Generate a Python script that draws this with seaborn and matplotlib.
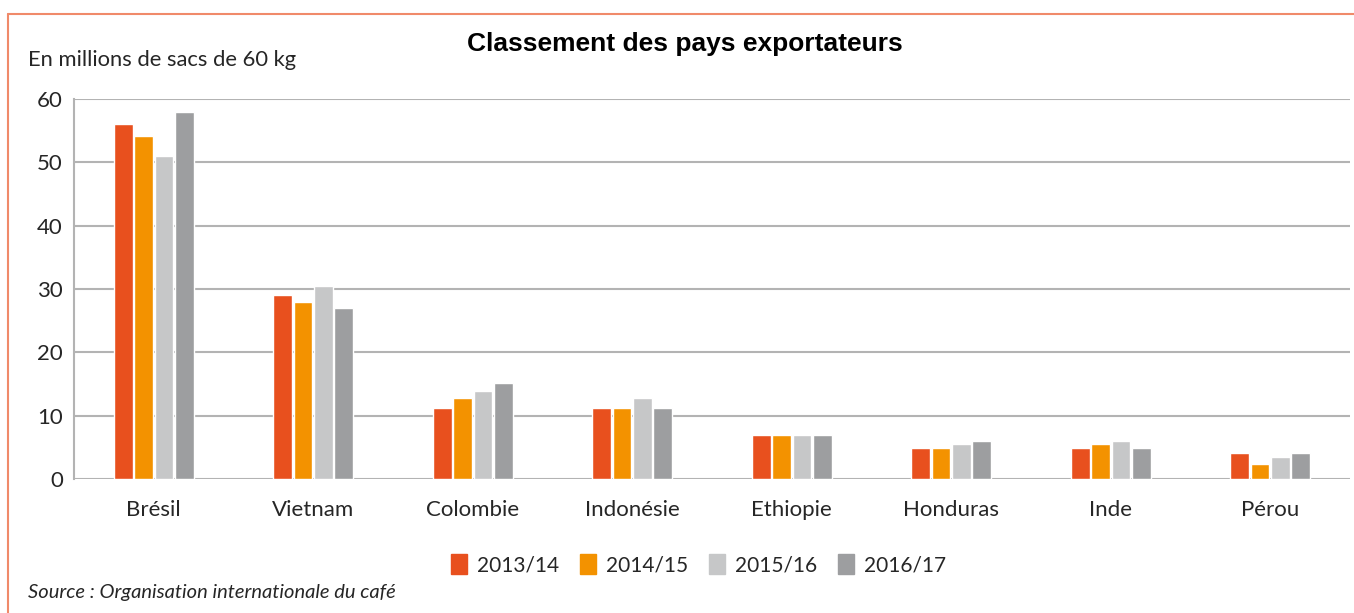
import seaborn as sns
import matplotlib.pyplot as plt
import matplotlib.patches as mpatches
import pandas as pd

# Data (millions of 60 kg bags)
pays = ['Brésil', 'Vietnam', 'Colombie', 'Indonésie', 'Ethiopie', 'Honduras', 'Inde', 'Pérou']
saisons = ['2013/14', '2014/15', '2015/16', '2016/17']
v2013 = [56, 29, 11.2, 11.2, 7, 4.9, 4.9, 4.1]
v2014 = [54.2, 28, 12.8, 11.2, 7, 4.9, 5.5, 2.4]
v2015 = [51, 30.5, 13.9, 12.8, 7, 5.5, 6.0, 3.5]
v2016 = [58, 27, 15.2, 11.2, 7, 6.0, 4.9, 4.1]
couleurs = ['#E8501E', '#F39200', '#C6C7C8', '#9D9EA0']

df = pd.DataFrame({'pays': pays * 4,
                   'saison': [s for s in saisons for _ in pays],
                   'valeur': v2013 + v2014 + v2015 + v2016})

sns.set_style('white')
plt.rcParams['font.family'] = ['Lato', 'DejaVu Sans']

fig = plt.figure(figsize=(13.54, 6.13), dpi=100)
ax = fig.add_axes([0.0547, 0.2186, 0.9423, 0.62])

sns.barplot(data=df, x='pays', y='valeur', hue='saison', palette=couleurs,
            width=0.51, gap=0.08, saturation=1, ax=ax, legend=False)

ax.set_xlim(-0.5, 7.5)
ax.set_ylim(0, 60)
ax.set_yticks(range(0, 61, 10))
ax.yaxis.grid(True, color='#b3b3b3', linewidth=1.5)
ax.set_axisbelow(True)
for s in ['top', 'right', 'bottom']:
    ax.spines[s].set_visible(False)
ax.spines['left'].set_color('#b3b3b3')
ax.spines['left'].set_linewidth(1.5)
ax.tick_params(axis='y', length=6, width=1.5, color='#b3b3b3', labelsize=16, pad=2)
ax.tick_params(axis='x', length=0, labelsize=16, pad=15)
ax.set_xlabel('')
ax.set_ylabel('')

fig.text(0.506, 0.928, 'Classement des pays exportateurs', ha='center', va='center',
         fontsize=19, fontweight='bold', family='Liberation Sans', color='black')
fig.text(0.021, 0.902, 'En millions de sacs de 60 kg', ha='left', va='center', fontsize=15.8)

handles = [mpatches.Patch(color=c, label=s) for c, s in zip(couleurs, saisons)]
fig.legend(handles=handles, loc='center', bbox_to_anchor=(0.516, 0.079), ncol=4,
           frameon=False, fontsize=15, handlelength=0.75, handleheight=1.1,
           handletextpad=0.5, columnspacing=1.0)

fig.text(0.021, 0.033, 'Source : Organisation internationale du café', ha='left', va='center',
         fontsize=14.5, style='italic')

# orange frame (top and left edges visible)
fig.add_artist(plt.Line2D([0.006, 1.0], [0.977, 0.977], color='#F08A6A', linewidth=1.5))
fig.add_artist(plt.Line2D([0.006, 0.006], [0.0, 0.977], color='#F08A6A', linewidth=1.5))

fig.savefig('out.png', dpi=100)
